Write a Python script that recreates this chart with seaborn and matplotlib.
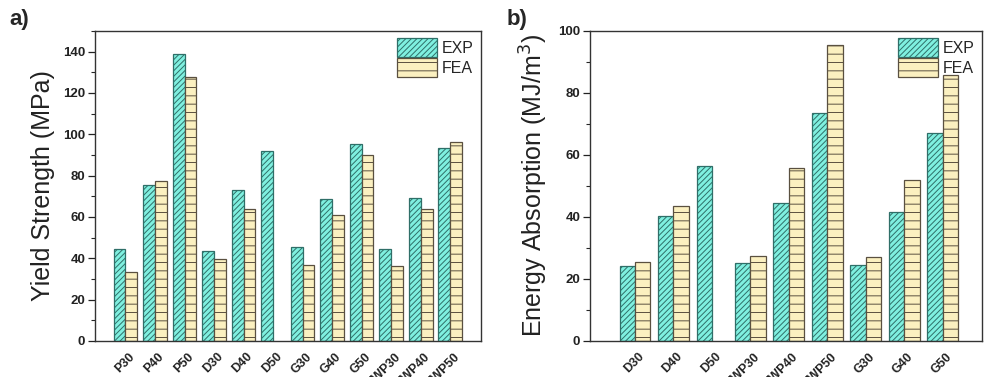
import matplotlib
matplotlib.use("Agg")
import matplotlib.pyplot as plt
import matplotlib.transforms as mtransforms
import seaborn as sns
import pandas as pd
from matplotlib.patches import Patch
from matplotlib.ticker import MultipleLocator

# ---- data ----
cats_a = ["P30", "P40", "P50", "D30", "D40", "D50", "G30", "G40", "G50", "IWP30", "IWP40", "IWP50"]
exp_a = [44.5, 75.5, 139.0, 43.4, 73.3, 91.7, 45.3, 68.9, 95.5, 44.6, 69.0, 93.6]
fea_a = [33.5, 77.4, 127.7, 39.6, 64.0, 0.0, 36.7, 61.1, 90.0, 36.4, 64.0, 96.4]

cats_b = ["D30", "D40", "D50", "IWP30", "IWP40", "IWP50", "G30", "G40", "G50"]
exp_b = [24.2, 40.3, 56.5, 25.1, 44.4, 73.5, 24.5, 41.7, 67.0]
fea_b = [25.4, 43.7, 0.0, 27.5, 55.9, 95.5, 27.0, 52.0, 85.8]

series = ["EXP", "FEA"]

sns.set_theme(style="white")
plt.rcParams["font.family"] = ["Liberation Sans", "DejaVu Sans"]
plt.rcParams["hatch.linewidth"] = 0.7

fill = {"EXP": "#7ff0e0", "FEA": "#fbf0c0"}
edge = {"EXP": "#2f6f68", "FEA": "#5a5040"}
hatch = {"EXP": "//////", "FEA": "--"}

fig = plt.figure(figsize=(9.87, 3.77), dpi=100)
ax_a = fig.add_axes([0.0963, 0.0955, 0.391, 0.8223])
ax_b = fig.add_axes([0.5978, 0.0955, 0.3971, 0.8223])


def panel(ax, cats, exp, fea, ylim, ymaj, ylabel, xlim):
    df = pd.DataFrame({
        "cat": cats * 2,
        "val": list(exp) + list(fea),
        "series": ["EXP"] * len(cats) + ["FEA"] * len(cats),
    })
    sns.barplot(data=df, x="cat", y="val", hue="series", order=cats,
                hue_order=series, palette=fill, width=0.8, dodge=True,
                saturation=1, legend=False, ax=ax, errorbar=None)
    for s, cont in zip(series, ax.containers):
        for p in cont.patches:
            p.set_hatch(hatch[s])
            p.set_edgecolor(edge[s])
            p.set_linewidth(0.9)
            if p.get_height() == 0:
                p.set_visible(False)
    ax.set_ylim(*ylim)
    ax.set_xlim(*xlim)
    ax.yaxis.set_major_locator(MultipleLocator(ymaj))
    ax.yaxis.set_minor_locator(MultipleLocator(ymaj / 2))
    ax.tick_params(axis="y", which="major", direction="out", length=5, width=0.9,
                   left=True, labelsize=9.5, pad=2, colors="#222222")
    ax.tick_params(axis="y", which="minor", direction="out", length=3, width=0.8, left=True)
    ax.tick_params(axis="x", bottom=False, labelsize=9, pad=4, colors="#222222")
    for lab in ax.get_yticklabels():
        lab.set_fontweight("bold")
    ax.set_xticks(range(len(cats)))
    ax.set_xticklabels(cats, rotation=45, ha="right", va="center",
                       rotation_mode="anchor", fontweight="bold")
    off = mtransforms.ScaledTranslation(0.07, 0.0, fig.dpi_scale_trans)
    for lab in ax.get_xticklabels():
        lab.set_transform(lab.get_transform() + off)
    ax.set_xlabel("")
    ax.set_ylabel(ylabel, fontsize=18, labelpad=6, color="#222222")
    for sp in ax.spines.values():
        sp.set_color("#333333")
        sp.set_linewidth(1.0)
    handles = [Patch(facecolor=fill[s], edgecolor=edge[s], hatch=hatch[s], linewidth=0.9, label=s)
               for s in series]
    ax.legend(handles=handles, loc="upper right", fontsize=11.5, frameon=False,
              handlelength=2.5, handleheight=1.4, handletextpad=0.3,
              borderaxespad=0.25, borderpad=0.2, labelspacing=0.1)


panel(ax_a, cats_a, exp_a, fea_a, (0, 150), 20, "Yield Strength (MPa)", (-1.03, 12.04))
panel(ax_b, cats_b, exp_b, fea_b, (0, 100), 20, "Energy Absorption (MJ/m$^3$)", (-1.17, 9.02))

fig.text(0.010, 0.975, "a)", fontsize=16, fontweight="bold", va="top", ha="left")
fig.text(0.513, 0.975, "b)", fontsize=16, fontweight="bold", va="top", ha="left")

fig.savefig("out.png", dpi=100)
